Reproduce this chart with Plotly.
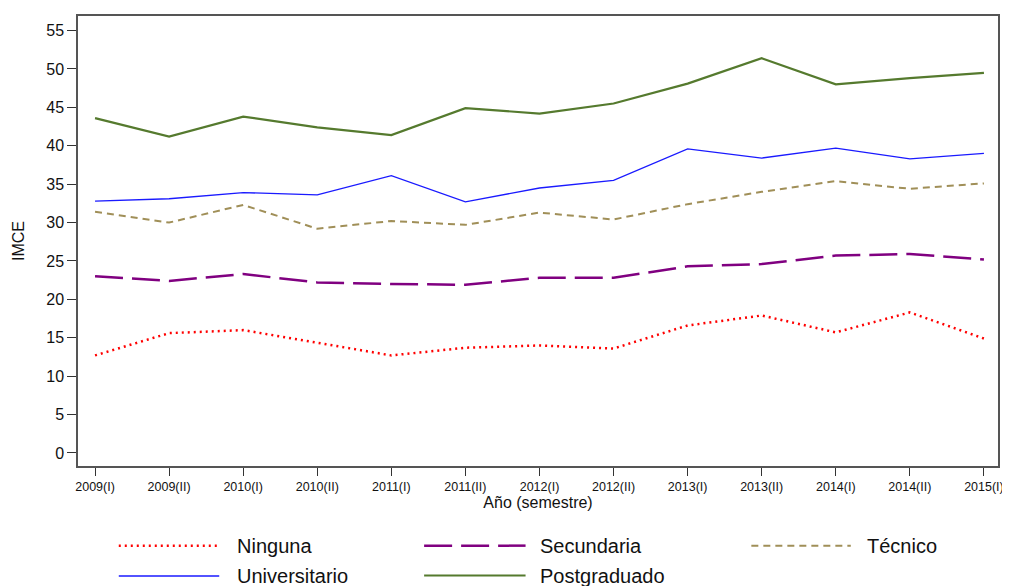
"""IMCE por nivel educativo, 2009(I) - 2015(I)."""

import plotly.graph_objects as go

semestres = [
    "2009(I)", "2009(II)", "2010(I)", "2010(II)", "2011(I)", "2011(II)",
    "2012(I)", "2012(II)", "2013(I)", "2013(II)", "2014(I)", "2014(II)", "2015(I)",
]

ninguna = [12.7, 15.6, 16.0, 14.4, 12.7, 13.7, 14.0, 13.6, 16.6, 17.9, 15.7, 18.3, 14.9]
secundaria = [23.0, 22.4, 23.3, 22.2, 22.0, 21.9, 22.8, 22.8, 24.3, 24.6, 25.7, 25.9, 25.2]
tecnico = [31.4, 30.0, 32.3, 29.2, 30.2, 29.7, 31.3, 30.4, 32.4, 34.0, 35.4, 34.4, 35.1]
universitario = [32.8, 33.1, 33.9, 33.6, 36.1, 32.7, 34.5, 35.5, 39.6, 38.4, 39.7, 38.3, 39.0]
postgraduado = [43.6, 41.2, 43.8, 42.4, 41.4, 44.9, 44.2, 45.5, 48.1, 51.4, 48.0, 48.8, 49.5]

y_ticks = list(range(0, 60, 5))

FONT = "Liberation Sans, Arial, sans-serif"

# name, values, color, width, dash
series = [
    ("Ninguna", ninguna, "#ff0000", 2.5, "2px,4px"),
    ("Secundaria", secundaria, "#800080", 2.5, "28px,9px"),
    ("Técnico", tecnico, "#a08f58", 2, "7px,5px"),
    ("Universitario", universitario, "#1a1aff", 1.3, "solid"),
    ("Postgraduado", postgraduado, "#557a2e", 2.2, "solid"),
]

# the page body has an 8px margin, so the figure is drawn 8px smaller
OFF = 8
W, H = 1010 - OFF, 586 - OFF
# plot area in page pixels
L, R, T, B = 78, 1003, 14, 466


def px_x(px):
    return (px - L) / (R - L)


def px_y(py):
    return (B - py) / (B - T)


fig = go.Figure()
for name, vals, color, width, dash in series:
    fig.add_trace(go.Scatter(
        x=semestres,
        y=vals,
        mode="lines",
        name=name,
        line=dict(color=color, width=width, dash=dash),
        showlegend=False,
    ))

# legend: three columns, two rows (page pixels)
legend_pos = [
    (119, 220, 236, 546),
    (426, 528, 541, 546),
    (755, 855, 869, 546),
    (119, 220, 236, 576.5),
    (426, 528, 541, 576),
]
for (name, _, color, width, dash), (x0, x1, xt, yr) in zip(series, legend_pos):
    fig.add_shape(
        type="line", xref="paper", yref="paper",
        x0=px_x(x0), x1=px_x(x1), y0=px_y(yr), y1=px_y(yr),
        line=dict(color=color, width=max(width, 1.6), dash=dash),
    )
    fig.add_annotation(
        xref="paper", yref="paper", x=px_x(xt), y=px_y(yr),
        text=name, showarrow=False, xanchor="left", yanchor="middle",
        font=dict(family=FONT, size=20, color="#111111"),
    )

fig.update_layout(
    width=W,
    height=H,
    margin=dict(l=L - OFF, r=1010 - R, t=T - OFF, b=586 - B),
    paper_bgcolor="white",
    plot_bgcolor="white",
    font=dict(family=FONT, color="#222222"),
    xaxis=dict(
        range=[-0.23, 12.19],
        showgrid=False,
        showline=True, mirror=True, linecolor="#555555", linewidth=1.5,
        ticks="outside", ticklen=8, tickcolor="#333333",
        tickfont=dict(size=12.5, color="#111111"),
        title=dict(text="Año (semestre)", font=dict(size=16, color="#111111"), standoff=0),
    ),
    yaxis=dict(
        range=[-1.7, 56.9],
        tickvals=y_ticks,
        showgrid=False, zeroline=False,
        showline=True, mirror=True, linecolor="#555555", linewidth=1.5,
        ticks="outside", ticklen=9, tickcolor="#333333",
        tickfont=dict(size=16, color="#111111"),
        title=dict(text="IMCE", font=dict(size=16, color="#111111"), standoff=18),
    ),
)

fig.write_html("out.html")
